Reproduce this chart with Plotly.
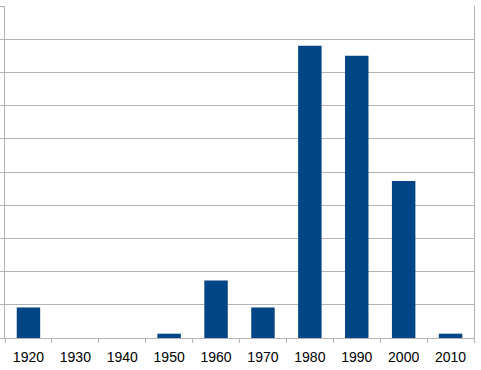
import plotly.graph_objects as go

decades = ["1920", "1930", "1940", "1950", "1960", "1970", "1980", "1990", "2000", "2010"]
counts = [9.2, 0, 0, 1.3, 17.3, 9.2, 88, 85, 47.3, 1.3]

fig = go.Figure(go.Bar(x=decades, y=counts, marker=dict(color="#004586", line=dict(width=0))))

fig.update_layout(
    width=481, height=370,
    margin=dict(l=5, r=7, t=6, b=32),
    paper_bgcolor="white", plot_bgcolor="white",
    bargap=0.5, showlegend=False,
    font=dict(family="Liberation Sans, Arial, sans-serif", size=14, color="#000000"),
)
fig.update_xaxes(
    type="category", showgrid=False, showline=True, linecolor="#b3b3b3", linewidth=1,
    ticks="outside", tickson="boundaries", ticklen=4, tickcolor="#b3b3b3",
    tickfont=dict(size=14, color="#000000"), ticklabelstandoff=6, automargin=False,
)
fig.update_yaxes(
    range=[0, 100], dtick=10, showgrid=True, gridcolor="#b3b3b3", gridwidth=1,
    showline=True, linecolor="#b3b3b3", linewidth=1, mirror=True,
    ticks="outside", ticklen=5, tickcolor="#b3b3b3", showticklabels=False,
    zeroline=False, automargin=False,
)

fig.write_html("out.html")
